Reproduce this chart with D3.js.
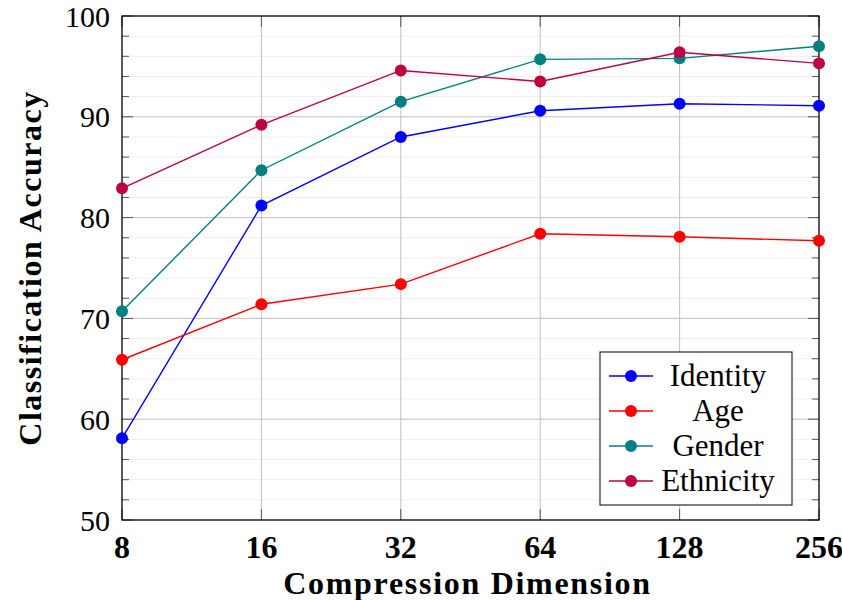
<!DOCTYPE html>
<html>
<head>
<meta charset="utf-8">
<script src="https://cdn.jsdelivr.net/npm/d3@7"></script>
<style>
  body { margin: 0; background: #fff; }
  svg text { font-family: "Liberation Serif", "DejaVu Serif", serif; fill: #000; }
</style>
</head>
<body>
<div id="chart"></div>
<script>
// data
let dims = [8, 16, 32, 64, 128, 256];
let identity = [58.1, 81.2, 88.0, 90.6, 91.3, 91.1];
let age = [65.9, 71.4, 73.4, 78.4, 78.1, 77.7];
let gender = [70.7, 84.7, 91.5, 95.7, 95.8, 97.0];
let ethnicity = [82.9, 89.2, 94.6, 93.5, 96.4, 95.3];
let yTicks = [50, 60, 70, 80, 90, 100];
let seriesNames = ['Identity', 'Age', 'Gender', 'Ethnicity'];

let seriesColors = ['#0000ff', '#ff0000', '#008080', '#bf0040'];
let allSeries = [identity, age, gender, ethnicity];

let width = 842, height = 600,
    margin = {left: 122, top: 16, right: 23, bottom: 80},
    clipWidth = width - margin.left - margin.right,
    clipHeight = height - margin.top - margin.bottom;

let svg = d3.select('#chart').append('svg')
    .attr('width', width)
    .attr('height', height)
    .append('g')
    .attr('transform', `translate(${margin.left}, ${margin.top})`);

let xScale = d3.scaleLog().base(2)
    .domain([8, 256])
    .range([0, clipWidth]);

let yScale = d3.scaleLinear()
    .domain([50, 100])
    .range([clipHeight, 0]);

let minorTicks = d3.range(50, 100.01, 2).filter(v => v % 10 !== 0);

// grid
let grid = svg.append('g').attr('class', 'grid');
grid.selectAll('.minor')
    .data(minorTicks)
    .join('line')
    .attr('class', 'minor')
    .attr('x1', 0).attr('x2', clipWidth)
    .attr('y1', d => yScale(d)).attr('y2', d => yScale(d))
    .attr('stroke', '#efefef').attr('stroke-width', 1);
grid.selectAll('.hmajor')
    .data(yTicks.slice(1, -1))
    .join('line')
    .attr('class', 'hmajor')
    .attr('x1', 0).attr('x2', clipWidth)
    .attr('y1', d => yScale(d)).attr('y2', d => yScale(d))
    .attr('stroke', '#c0c0c0').attr('stroke-width', 1);
grid.selectAll('.vmajor')
    .data(dims.slice(1, -1))
    .join('line')
    .attr('class', 'vmajor')
    .attr('x1', d => xScale(d)).attr('x2', d => xScale(d))
    .attr('y1', 0).attr('y2', clipHeight)
    .attr('stroke', '#c0c0c0').attr('stroke-width', 1);

// ticks inside the frame, all four sides
let ticks = svg.append('g').attr('class', 'ticks').attr('stroke', '#555').attr('stroke-width', 1);
minorTicks.forEach(v => {
    ticks.append('line').attr('x1', 0).attr('x2', 7).attr('y1', yScale(v)).attr('y2', yScale(v));
    ticks.append('line').attr('x1', clipWidth - 7).attr('x2', clipWidth).attr('y1', yScale(v)).attr('y2', yScale(v));
});
yTicks.forEach(v => {
    ticks.append('line').attr('x1', 0).attr('x2', 11).attr('y1', yScale(v)).attr('y2', yScale(v));
    ticks.append('line').attr('x1', clipWidth - 11).attr('x2', clipWidth).attr('y1', yScale(v)).attr('y2', yScale(v));
});
dims.forEach(v => {
    ticks.append('line').attr('x1', xScale(v)).attr('x2', xScale(v)).attr('y1', clipHeight - 11).attr('y2', clipHeight);
    ticks.append('line').attr('x1', xScale(v)).attr('x2', xScale(v)).attr('y1', 0).attr('y2', 11);
});

// frame
svg.append('rect')
    .attr('width', clipWidth).attr('height', clipHeight)
    .attr('fill', 'none').attr('stroke', '#000').attr('stroke-width', 1.3);

// tick labels
svg.append('g').selectAll('text')
    .data(yTicks)
    .join('text')
    .attr('x', -12)
    .attr('y', d => yScale(d))
    .attr('dy', '0.35em')
    .attr('text-anchor', 'end')
    .style('font-size', '30px')
    .text(d => d);

svg.append('g').selectAll('text')
    .data(dims)
    .join('text')
    .attr('x', d => xScale(d))
    .attr('y', clipHeight + 38)
    .attr('text-anchor', 'middle')
    .style('font-size', '32px')
    .style('font-weight', 'bold')
    .text(d => d);

// axis titles
svg.append('text')
    .attr('x', clipWidth / 2 - 3)
    .attr('y', clipHeight + 74)
    .attr('text-anchor', 'middle')
    .style('font-size', '32px')
    .style('letter-spacing', '1.7px')
    .style('font-weight', 'bold')
    .text('Compression Dimension');

svg.append('text')
    .attr('transform', `translate(${-81}, ${clipHeight / 2}) rotate(-90)`)
    .attr('text-anchor', 'middle')
    .style('font-size', '32px')
    .style('letter-spacing', '1.5px')
    .style('font-weight', 'bold')
    .text('Classification Accuracy');

// lines and markers
let line = d3.line()
    .x((d, i) => xScale(dims[i]))
    .y(d => yScale(d));

allSeries.forEach((s, k) => {
    svg.append('path')
        .datum(s)
        .attr('d', line)
        .attr('fill', 'none')
        .attr('stroke', seriesColors[k])
        .attr('stroke-width', 1.4);
    svg.append('g').selectAll('circle')
        .data(s)
        .join('circle')
        .attr('cx', (d, i) => xScale(dims[i]))
        .attr('cy', d => yScale(d))
        .attr('r', 6)
        .attr('fill', seriesColors[k]);
});

// legend
let legend = svg.append('g')
    .attr('transform', `translate(${600 - margin.left}, ${352 - margin.top})`);
legend.append('rect')
    .attr('width', 192).attr('height', 153)
    .attr('fill', '#fff').attr('stroke', '#000').attr('stroke-width', 1);
seriesNames.forEach((name, k) => {
    let cy = 24 + k * 35;
    legend.append('line')
        .attr('x1', 9).attr('x2', 53).attr('y1', cy).attr('y2', cy)
        .attr('stroke', seriesColors[k]).attr('stroke-width', 1.4);
    legend.append('circle')
        .attr('cx', 31).attr('cy', cy).attr('r', 6)
        .attr('fill', seriesColors[k]);
    legend.append('text')
        .attr('x', 118).attr('y', cy)
        .attr('dy', '0.33em')
        .attr('text-anchor', 'middle')
        .style('font-size', '31px')
        .text(name);
});
</script>
</body>
</html>
